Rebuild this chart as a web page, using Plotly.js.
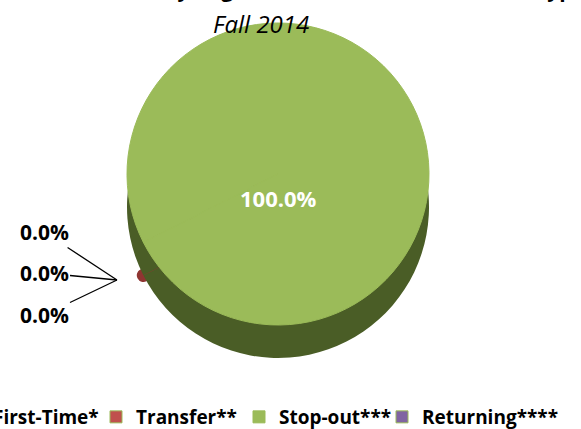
<!DOCTYPE html>
<html><head><meta charset="utf-8">
<script src="https://cdn.plot.ly/plotly-3.0.1.min.js"></script>
<style>html,body{margin:0;padding:0;background:#fff}#chart{width:581px;height:429px}</style>
</head><body><div id="chart"></div>
<script>
const categories = ["First-Time*", "Transfer**", "Stop-out***", "Returning****"];
const counts = [0, 1, 2500, 0];
const topColors = ["#4F81BD", "#C0504D", "#9BBB59", "#8064A2"];
const sideColors = ["#2c4d75", "#8f3532", "#4a5d26", "#4d3b62"];
const titleText = "Enrollment by Registration Status and Student Type";
const subtitleText = "Fall 2014";

(function () {
const total = counts.reduce((a, b) => a + b, 0);
const pct = counts.map(v => (100 * v / total).toFixed(1) + "%");
const FONT = "'Open Sans', sans-serif";
const W = 581, H = 429, MB = 40, HP = H - MB;
const px = x => x / W;
const py = y => (HP - y) / HP;
const cx = 278, cy = 174, r = 151, depth = 33;
function dom(cyy) {
  return {x: [px(cx - r), px(cx + r)], y: [py(cyy + r), py(cyy - r)]};
}
const common = {
  type: "pie", labels: categories, values: counts, sort: false,
  direction: "clockwise", rotation: 243, textinfo: "none", hoverinfo: "label+percent"
};
const sidePie = Object.assign({}, common, {
  domain: dom(cy + depth), showlegend: false,
  marker: {colors: sideColors,
    line: {color: sideColors, width: counts.map(v => (v > 0 && v / total < 0.01) ? 13 : 0)}}
});
const topPie = Object.assign({}, common, {
  domain: dom(cy),
  marker: {colors: topColors, line: {color: topColors[2], width: 1}}
});

const anchor = {x: px(117), y: py(280)};
const offsets = [[-73, -48], [-73, -7], [-73, 35]];
const annotations = [];
let k = 0;
counts.forEach((v, i) => {
  if (v / total < 0.5 && k < offsets.length) {
    annotations.push({x: anchor.x, y: anchor.y, xref: "paper", yref: "paper", text: "<b>" + pct[i] + "</b>",
      showarrow: true, arrowhead: 0, arrowwidth: 1.3, arrowcolor: "#000", standoff: 0,
      ax: offsets[k][0], ay: offsets[k][1], font: {family: FONT, size: 21, color: "#000"}});
    k++;
  } else if (v / total >= 0.5) {
    annotations.push({x: px(cx), y: py(198), xref: "paper", yref: "paper", text: "<b>" + pct[i] + "</b>",
      showarrow: false, font: {family: FONT, size: 22, color: "#fff"}});
  }
});
annotations.push({x: px(313), y: py(5), xref: "paper", yref: "paper", yanchor: "bottom",
  text: "<b>" + titleText + "</b>", showarrow: false, font: {family: FONT, size: 21, color: "#000"}});
annotations.push({x: px(261), y: py(23), xref: "paper", yref: "paper", yanchor: "middle",
  text: "<i>" + subtitleText + "</i>", showarrow: false, font: {family: FONT, size: 24, color: "#000"}});

const layout = {
  width: W, height: H, margin: {l: 0, r: 0, t: 0, b: MB, autoexpand: false},
  paper_bgcolor: "#fff", showlegend: true,
  legend: {orientation: "h", x: px(-47), y: py(417), xanchor: "left", yanchor: "middle",
    font: {family: FONT, size: 19, color: "#000", weight: "bold"}, itemwidth: 30, traceorder: "normal",
    entrywidth: 98, entrywidthmode: "pixels"},
  annotations: annotations
};
Plotly.newPlot("chart", [sidePie, topPie], layout, {staticPlot: true}).then(gd => {
  gd.querySelectorAll(".legend .scrollbox, .legend").forEach(el => el.removeAttribute("clip-path"));
});
})();
</script></body></html>
